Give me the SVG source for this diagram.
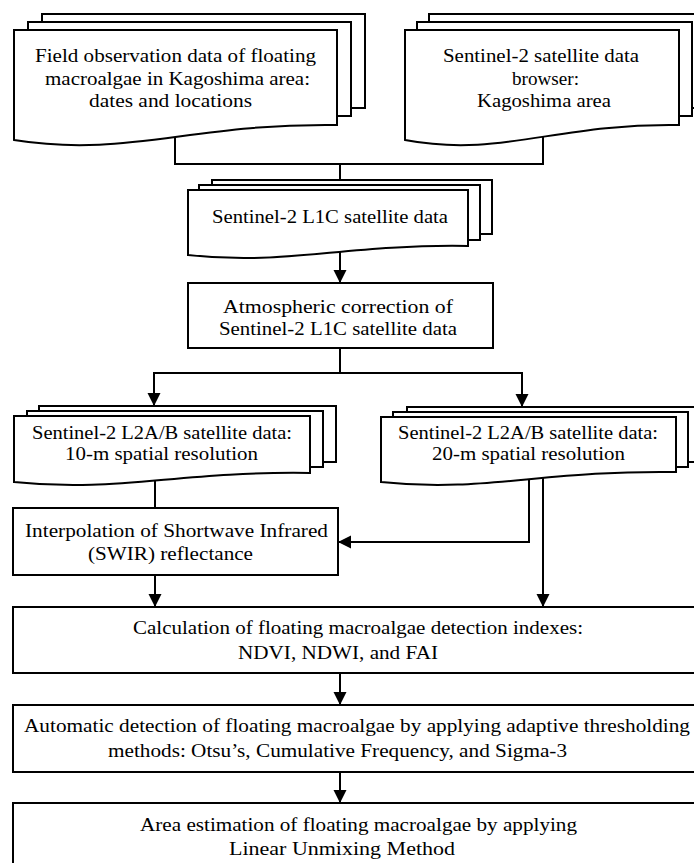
<svg xmlns="http://www.w3.org/2000/svg" width="694" height="863" viewBox="0 0 694 863">
<style>
.pg{fill:#fff;stroke:#000;stroke-width:2}
.bx{fill:#fff;stroke:#000;stroke-width:2}
.ln{fill:none;stroke:#000;stroke-width:2}
text{font-family:"Liberation Serif","Times New Roman",serif;font-size:19.5px;fill:#000}
</style>
<defs>
<marker id="ah" markerUnits="userSpaceOnUse" markerWidth="14" markerHeight="14" refX="13" refY="6.5" orient="auto">
<path d="M0,0 L13,6.5 L0,13 Z" fill="#000"/>
</marker>
</defs>
<rect width="694" height="863" fill="#fff"/>
<g id="connectors">
<polyline class="ln" points="175,135 175,164 543,164 543,135"/>
<line class="ln" x1="340" y1="164" x2="340" y2="181"/>
<line class="ln" x1="340" y1="250" x2="340" y2="283" marker-end="url(#ah)"/>
<line class="ln" x1="340" y1="348" x2="340" y2="373"/>
<polyline class="ln" points="154,380 154,373 522,373 522,380"/>
<line class="ln" x1="154" y1="373" x2="154" y2="406" marker-end="url(#ah)"/>
<line class="ln" x1="522" y1="373" x2="522" y2="407" marker-end="url(#ah)"/>
<line class="ln" x1="155" y1="478" x2="155" y2="508"/>
<polyline class="ln" points="529,478 529,542 338,542" marker-end="url(#ah)"/>
<line class="ln" x1="543" y1="478" x2="543" y2="607" marker-end="url(#ah)"/>
<line class="ln" x1="155" y1="575" x2="155" y2="607" marker-end="url(#ah)"/>
<line class="ln" x1="340" y1="673" x2="340" y2="705" marker-end="url(#ah)"/>
<line class="ln" x1="340" y1="772" x2="340" y2="803" marker-end="url(#ah)"/>
</g>
<g id="field-data">
<rect class="pg" x="42" y="14" width="323" height="94"/>
<rect class="pg" x="28" y="22" width="323" height="94"/>
<path class="pg" d="M14,30 H337 V125 C191,123 127,158 14,140 Z"/>
<text x="35" y="62" textLength="281" lengthAdjust="spacingAndGlyphs">Field observation data of floating</text>
<text x="45" y="85" textLength="265" lengthAdjust="spacingAndGlyphs">macroalgae in Kagoshima area:</text>
<text x="89" y="107" textLength="163" lengthAdjust="spacingAndGlyphs">dates and locations</text>
</g>
<g id="sentinel-browser">
<rect class="pg" x="429" y="14" width="277" height="94"/>
<rect class="pg" x="417" y="22" width="275" height="94"/>
<path class="pg" d="M405,30 H679 V125 C556,123 501,158 405,140 Z"/>
<text x="443" y="62" textLength="196" lengthAdjust="spacingAndGlyphs">Sentinel-2 satellite data</text>
<text x="512" y="85" textLength="67" lengthAdjust="spacingAndGlyphs">browser:</text>
<text x="477" y="107" textLength="134" lengthAdjust="spacingAndGlyphs">Kagoshima area</text>
</g>
<g id="l1c-data">
<rect class="pg" x="212" y="180" width="280" height="54"/>
<rect class="pg" x="199" y="185" width="281" height="55"/>
<path class="pg" d="M188,190 H468 V246 C342,244 286,266 188,255 Z"/>
<text x="212" y="223" textLength="236" lengthAdjust="spacingAndGlyphs">Sentinel-2 L1C satellite data</text>
</g>
<g id="atmospheric-correction">
<rect class="bx" x="188" y="283" width="305" height="65"/>
<text x="223" y="313" textLength="230" lengthAdjust="spacingAndGlyphs">Atmospheric correction of</text>
<text x="219" y="335" textLength="238" lengthAdjust="spacingAndGlyphs">Sentinel-2 L1C satellite data</text>
</g>
<g id="l2a-10m">
<rect class="pg" x="39" y="406" width="297" height="56"/>
<rect class="pg" x="27" y="411" width="296" height="56"/>
<path class="pg" d="M14,416 H310 V473 C177,471 118,493 14,482 Z"/>
<text x="32" y="439" textLength="260" lengthAdjust="spacingAndGlyphs">Sentinel-2 L2A/B satellite data:</text>
<text x="65" y="460" textLength="193" lengthAdjust="spacingAndGlyphs">10-m spatial resolution</text>
</g>
<g id="l2a-20m">
<rect class="pg" x="407" y="407" width="295" height="55"/>
<rect class="pg" x="393" y="412" width="295" height="55"/>
<path class="pg" d="M381,417 H676 V472 C543,470 484,493 381,482 Z"/>
<text x="398" y="439" textLength="260" lengthAdjust="spacingAndGlyphs">Sentinel-2 L2A/B satellite data:</text>
<text x="432" y="460" textLength="193" lengthAdjust="spacingAndGlyphs">20-m spatial resolution</text>
</g>
<g id="swir-interpolation">
<rect class="bx" x="13" y="508" width="325" height="67"/>
<text x="25" y="537" textLength="303" lengthAdjust="spacingAndGlyphs">Interpolation of Shortwave Infrared</text>
<text x="88" y="560" textLength="165" lengthAdjust="spacingAndGlyphs">(SWIR) reflectance</text>
</g>
<g id="detection-indexes">
<rect class="bx" x="13" y="607" width="700" height="66"/>
<text x="133" y="634" textLength="450" lengthAdjust="spacingAndGlyphs">Calculation of floating macroalgae detection indexes:</text>
<text x="238" y="659" textLength="200" lengthAdjust="spacingAndGlyphs">NDVI, NDWI, and FAI</text>
</g>
<g id="automatic-detection">
<rect class="bx" x="13" y="705" width="700" height="67"/>
<text x="24" y="732" textLength="666" lengthAdjust="spacingAndGlyphs">Automatic detection of floating macroalgae by applying adaptive thresholding</text>
<text x="108" y="757" textLength="459" lengthAdjust="spacingAndGlyphs">methods: Otsu’s, Cumulative Frequency, and Sigma-3</text>
</g>
<g id="area-estimation">
<rect class="bx" x="13" y="803" width="700" height="80"/>
<text x="140" y="831" textLength="437" lengthAdjust="spacingAndGlyphs">Area estimation of floating macroalgae by applying</text>
<text x="229" y="855" textLength="226" lengthAdjust="spacingAndGlyphs">Linear Unmixing Method</text>
</g>
</svg>
